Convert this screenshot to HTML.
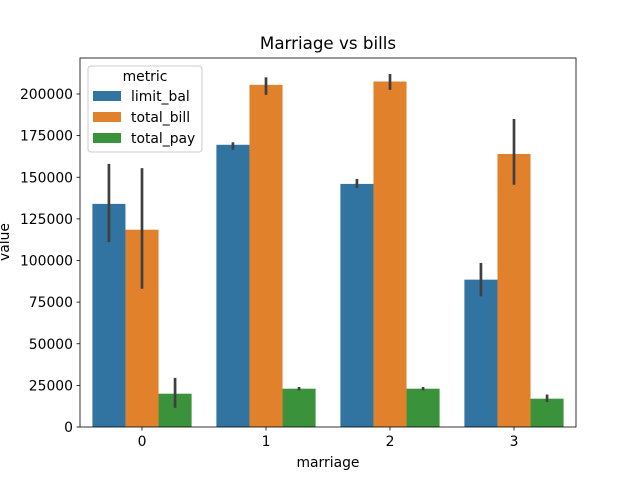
<!DOCTYPE html>
<html><head><meta charset="utf-8"><style>body{margin:0;background:#fff}svg{font-family:"DejaVu Sans","Liberation Sans",sans-serif}</style></head>
<body>
<svg id="c" width="640" height="480" viewBox="0 0 640 480">
<rect width="640" height="480" fill="#fff"/>
<text x="328" y="49" text-anchor="middle" font-size="16.7">Marriage vs bills</text>
<g id="bars"></g>
<rect x="80" y="58" width="496" height="369" fill="none" stroke="#000" stroke-width="0.8"/>
<g id="axes"></g>
<text x="328" y="467" text-anchor="middle" font-size="13.9">marriage</text>
<text transform="translate(9,242) rotate(-90)" text-anchor="middle" font-size="13.9">value</text>
<g id="legend">
<rect x="88" y="66" width="114" height="86" rx="3" fill="#fff" fill-opacity="0.8" stroke="#ccc"/>
<text x="145" y="81" text-anchor="middle" font-size="13.9">metric</text>
</g>
</svg>
<script>
const categories=["0","1","2","3"];
const metrics=["limit_bal","total_bill","total_pay"];
const colors=["#3274a1","#e1812c","#3a923a"];
const limitBal=[134000,169500,146000,88500];
const totalBill=[118500,205500,207500,164000];
const totalPay=[20000,23000,23000,17000];
const limitErr=[[111000,158000],[166500,171000],[143500,149000],[78500,98500]];
const billErr=[[83000,155500],[199500,210000],[202500,212000],[145500,185000]];
const payErr=[[11500,29500],[22000,24000],[22000,24000],[15000,19500]];
const yTicks=[0,25000,50000,75000,100000,125000,150000,175000,200000];
const NS="http://www.w3.org/2000/svg";
const x0=80,x1=576,yB=427,k=333/200000;
const y=v=>yB-v*k;
const band=(x1-x0)/categories.length;
const xc=i=>x0+band*(i+0.5);
const bw=band*0.8/3;
function mk(t,a,p){const e=document.createElementNS(NS,t);for(const q in a)e.setAttribute(q,a[q]);p.appendChild(e);return e;}
const bars=document.getElementById('bars'),axes=document.getElementById('axes');
const series=[limitBal,totalBill,totalPay],errs=[limitErr,billErr,payErr];
series.forEach((s,m)=>{s.forEach((v,i)=>{
 const bx=xc(i)-band*0.4+m*bw;
 const r=mk('rect',{x:bx,y:y(v),width:bw,height:yB-y(v),fill:colors[m]},bars);
 
 
 const e=errs[m][i];
 const l=mk('line',{x1:bx+bw/2,x2:bx+bw/2,y1:y(e[0]),y2:y(e[1]),stroke:'#3f3f3f','stroke-width':2.7},bars);
 
 
});});
yTicks.forEach(t=>{
 mk('line',{x1:x0-3.5,x2:x0,y1:y(t),y2:y(t),stroke:'#000','stroke-width':0.8},axes);
 const tx=mk('text',{x:x0-7,y:y(t)+5,'text-anchor':'end','font-size':13.9},axes);
 tx.textContent=t;
 
 
});
categories.forEach((c,i)=>{
 mk('line',{x1:xc(i),x2:xc(i),y1:yB,y2:yB+3.5,stroke:'#000','stroke-width':0.8},axes);
 const tx=mk('text',{x:xc(i),y:yB+19,'text-anchor':'middle','font-size':13.9},axes);
 tx.textContent=c;
 
 
});
const lg=document.getElementById('legend');
metrics.forEach((m,j)=>{
 const yy=91+j*21;
 const p=mk('rect',{x:93,y:yy,width:28,height:10,fill:colors[j]},lg);
 
 
 const t=mk('text',{x:131,y:yy+10,'font-size':13.9},lg);
 t.textContent=m;
 
 
});
</script>
</body></html>
